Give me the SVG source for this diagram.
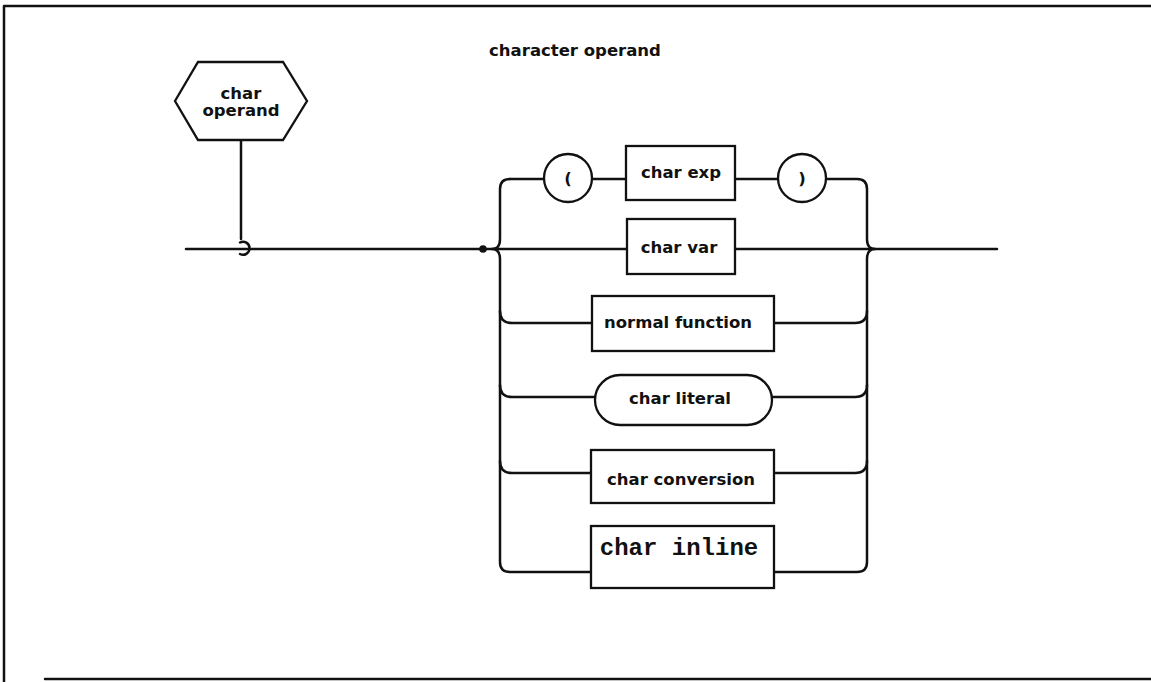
<svg xmlns="http://www.w3.org/2000/svg" width="1151" height="682" viewBox="0 0 1151 682">
<style>
.ln{fill:none;stroke:#111;stroke-width:2.5;stroke-linecap:round;stroke-linejoin:round}
.bx{fill:#fff;stroke:#111;stroke-width:2.3}
.t{font-family:"DejaVu Sans","Liberation Sans",sans-serif;font-weight:bold;font-size:16.5px;fill:#111;text-anchor:middle}
.m{font-family:"Liberation Mono","Courier New",monospace;font-size:24px;fill:#111;text-anchor:middle;font-weight:bold}
</style>
<rect width="1151" height="682" fill="#fff"/>
<g id="frame" class="ln">
<path d="M4,682 V6 H1151"/>
<path d="M45,679 H1151"/>
</g>
<text id="title" class="t" x="575" y="56">character operand</text>
<g id="connectors" class="ln">
<path d="M241,140 V239"/>
<path d="M240,242.5 A6.5,6.5 0 1 1 240,254"/>
<path d="M186,249 H627"/>
<path d="M735,249 H997"/>
<path d="M510,179 Q500,179 500,189 V239 Q500,249 492,249 Q500,249 500,259 V562 Q500,572 510,572 H591"/>
<path d="M827,179 H857 Q867,179 867,189 V239 Q867,249 875,249 Q867,249 867,259 V562 Q867,572 857,572 H774"/>
<path d="M510,179 H543"/>
<path d="M593,179 H626"/>
<path d="M735,179 H777"/>
<path d="M500,311 Q500,323 512,323 H592"/>
<path d="M774,323 H855 Q867,323 867,311"/>
<path d="M500,385 Q500,397 512,397 H595"/>
<path d="M772,397 H855 Q867,397 867,385"/>
<path d="M500,461 Q500,473 512,473 H591"/>
<path d="M774,473 H855 Q867,473 867,461"/>
</g>
<circle cx="483" cy="249" r="3.8" fill="#111"/>
<g id="char_operand">
<polygon class="bx" points="175,101 198,62 283,62 307,101 283,140 198,140"/>
<text class="t" x="241" y="99">char</text>
<text class="t" x="241" y="116">operand</text>
</g>
<g id="lparen">
<circle class="bx" cx="568" cy="178" r="24"/>
<text class="t" x="568" y="184">(</text>
</g>
<g id="char_exp">
<rect class="bx" x="626" y="146" width="109" height="54"/>
<text class="t" x="681" y="178">char exp</text>
</g>
<g id="rparen">
<circle class="bx" cx="802" cy="178" r="24"/>
<text class="t" x="802" y="184">)</text>
</g>
<g id="char_var">
<rect class="bx" x="627" y="219" width="108" height="55"/>
<text class="t" x="679" y="253">char var</text>
</g>
<g id="normal_function">
<rect class="bx" x="592" y="296" width="182" height="55"/>
<text class="t" x="678" y="328">normal function</text>
</g>
<g id="char_literal">
<rect class="bx" x="595" y="375" width="177" height="50" rx="25" ry="25"/>
<text class="t" x="680" y="404">char literal</text>
</g>
<g id="char_conversion">
<rect class="bx" x="591" y="450" width="183" height="53"/>
<text class="t" x="681" y="485">char conversion</text>
</g>
<g id="char_inline">
<rect class="bx" x="591" y="526" width="183" height="62"/>
<text class="m" x="679" y="555">char inline</text>
</g>
</svg>
